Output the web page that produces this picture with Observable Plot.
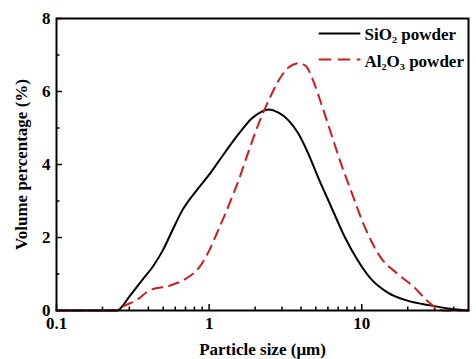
<!DOCTYPE html>
<html><head><meta charset="utf-8">
<script src="https://cdn.jsdelivr.net/npm/d3@7"></script>
<script src="https://cdn.jsdelivr.net/npm/@observablehq/plot@0.6"></script>
<style>html,body{margin:0;padding:0;background:#fff;}</style>
</head><body><div id="chart"></div>
<script>
// Particle size (µm) and volume percentage (%)
const sizeSiO2 = [0.1, 0.2, 0.25, 0.261, 0.3, 0.367, 0.427, 0.496, 0.575, 0.668, 0.823, 1.0, 1.16, 1.57, 1.9, 2.21, 2.45, 2.85, 3.31, 3.84, 4.46, 5.18, 6.29, 7.76, 9.42, 11.4, 14.8, 19.9, 28, 37.8, 50];
const volSiO2  = [0, 0, 0, 0.05, 0.38, 0.85, 1.2, 1.64, 2.2, 2.75, 3.28, 3.72, 4.1, 4.85, 5.26, 5.45, 5.51, 5.42, 5.21, 4.85, 4.3, 3.64, 2.85, 2.0, 1.37, 0.88, 0.49, 0.27, 0.14, 0.05, 0];
const sizeAl2O3 = [0.1, 0.2, 0.248, 0.27, 0.331, 0.407, 0.55, 0.709, 0.861, 1.0, 1.16, 1.35, 1.57, 1.82, 2.11, 2.45, 2.85, 3.31, 3.84, 4.27, 4.8, 5.42, 6.29, 7.3, 8.48, 10.5, 13.3, 17.1, 22.1, 26.8, 31.2, 35, 50];
const volAl2O3  = [0, 0, 0, 0.1, 0.27, 0.55, 0.68, 0.88, 1.18, 1.64, 2.25, 2.9, 3.6, 4.38, 5.12, 5.75, 6.3, 6.66, 6.77, 6.71, 6.3, 5.67, 4.85, 4.03, 3.29, 2.27, 1.45, 1.01, 0.63, 0.27, 0.05, 0, 0];
const seriesNames = ["SiO₂ powder", "Al₂O₃ powder"];
const xTickLabels = [0.1, 1, 10, 50];
const xMajorTicks = [0.1, 1, 10];
const xMinorTicks = [0.2,0.3,0.4,0.5,0.6,0.7,0.8,0.9,2,3,4,5,6,7,8,9,20,30,40];
const yTickLabels = [0, 2, 4, 6, 8];
const yMinorTicks = [1, 3, 5, 7];

const sio2 = sizeSiO2.map((s, i) => ({size: s, vol: volSiO2[i]}));
const al2o3 = sizeAl2O3.map((s, i) => ({size: s, vol: volAl2O3[i]}));
const red = "#d2191e";
const segShape = {draw(ctx, l) { ctx.moveTo(0, 0); ctx.lineTo(0, -l); }};

const chart = Plot.plot({
  width: 476, height: 359,
  marginLeft: 56, marginRight: 8, marginTop: 18, marginBottom: 49,
  style: {fontFamily: "'Liberation Serif', 'Times New Roman', serif", fontWeight: "bold", fontSize: "17px", background: "#fff", color: "#000"},
  x: {type: "log", domain: [0.1, 50]},
  y: {domain: [0, 8]},
  marks: [
    Plot.axisX(xMajorTicks, {tickSize: -6, strokeWidth: 1.5, tickFormat: () => "", label: null}),
    Plot.axisX(xMinorTicks, {tickSize: -3.5, strokeWidth: 1.5, tickFormat: () => "", label: null}),
    Plot.axisX(xTickLabels, {tickSize: 0, tickPadding: 6, tickFormat: d => `${d}`, label: "Particle size (μm)", labelAnchor: "center", labelOffset: 44, labelArrow: "none"}),
    Plot.axisY(yTickLabels, {tickSize: -6, strokeWidth: 1.5, tickFormat: () => "", label: null}),
    Plot.axisY(yMinorTicks, {tickSize: -3.5, strokeWidth: 1.5, tickFormat: () => "", label: null}),
    Plot.axisY(yTickLabels, {tickSize: 0, tickPadding: 6, label: "Volume percentage (%)", labelAnchor: "center", labelOffset: 42, labelArrow: "none"}),
    Plot.line(sio2, {x: "size", y: "vol", stroke: "#000", strokeWidth: 2, curve: "monotone-x"}),
    Plot.line(al2o3, {x: "size", y: "vol", stroke: red, strokeWidth: 2, strokeDasharray: "10,7", curve: "monotone-x"}),
    Plot.frame({stroke: "#000", strokeWidth: 2}),
    Plot.vector([seriesNames[0]], {frameAnchor: "top-left", dx: 263, dy: 15, length: 40, rotate: 90, anchor: "start", shape: segShape, stroke: "#000", strokeWidth: 2}),
    Plot.vector([seriesNames[1]], {frameAnchor: "top-left", dx: 263, dy: 41, length: 40, rotate: 90, anchor: "start", shape: segShape, stroke: red, strokeWidth: 2, strokeDasharray: "11,8"}),
    Plot.text([seriesNames[0]], {text: d => d, frameAnchor: "top-left", dx: 308, dy: 16, lineAnchor: "middle", textAnchor: "start", fill: "#000"}),
    Plot.text([seriesNames[1]], {text: d => d, frameAnchor: "top-left", dx: 308, dy: 43, lineAnchor: "middle", textAnchor: "start", fill: "#000"})
  ]
});
document.getElementById("chart").append(chart);
</script>
</body></html>
